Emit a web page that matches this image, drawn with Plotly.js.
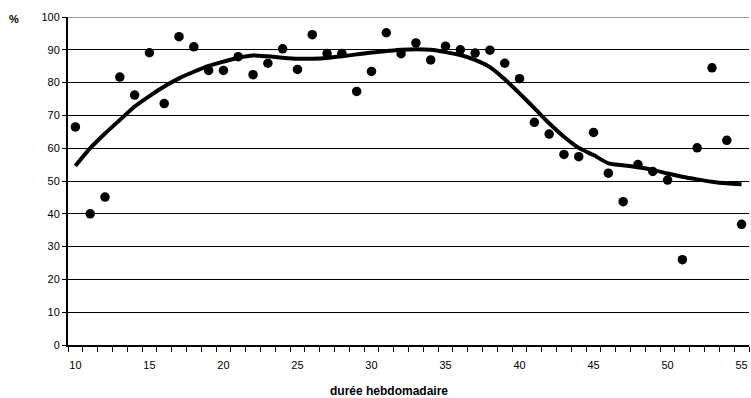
<!DOCTYPE html>
<html>
<head>
<meta charset="utf-8">
<script src="https://cdn.plot.ly/plotly-3.0.1.min.js"></script>
<style>html,body{margin:0;padding:0;background:#fff;}#chart{width:751px;height:398px;}</style>
</head>
<body>
<div id="chart"></div>
<script>
// Weekly hours (durée hebdomadaire)
var hours = [10,11,12,13,14,15,16,17,18,19,20,21,22,23,24,25,26,27,28,29,30,31,32,33,34,35,36,37,38,39,40,41,42,43,44,45,46,47,48,49,50,51,52,53,54,55];
// Observed percentages (points)
var observed = [66.5,40,45.1,81.7,76.2,89.1,73.6,94.0,90.9,83.7,83.7,87.9,82.4,85.9,90.3,84.0,94.6,88.9,88.9,77.3,83.4,95.2,88.8,92.1,86.9,91.1,90.0,89.0,89.9,85.9,81.2,67.9,64.3,58.1,57.4,64.8,52.4,43.7,55.0,52.9,50.3,26.0,60.1,84.5,62.4,36.8];
// Smoothed trend curve
var trend = [54.6,60.0,64.5,68.6,72.7,75.9,78.8,81.3,83.3,85.1,86.4,87.6,88.3,88.0,87.6,87.3,87.3,87.5,88.0,88.6,89.2,89.6,90.0,90.2,90.0,89.3,88.4,86.9,84.7,81.0,76.7,72.2,67.6,63.5,60.1,57.9,55.4,54.8,54.2,53.4,52.3,51.3,50.5,49.8,49.3,49.0];
var xTickVals = [10,15,20,25,30,35,40,45,50,55];
var yTickVals = [0,10,20,30,40,50,60,70,80,90];

var traces = [
  {x: hours, y: trend, type: 'scatter', mode: 'lines',
   line: {color: '#000', width: 4, shape: 'spline', smoothing: 0.5},
   hoverinfo: 'skip', showlegend: false},
  {x: hours, y: observed, type: 'scatter', mode: 'markers',
   marker: {color: '#000', size: 9.5, symbol: 'circle'},
   showlegend: false}
];

var layout = {
  width: 751, height: 398,
  margin: {l: 68, r: 2, t: 17, b: 53},
  paper_bgcolor: '#fff', plot_bgcolor: '#fff',
  font: {family: 'Liberation Sans, Arial, sans-serif', size: 11, color: '#000'},
  showlegend: false,
  xaxis: {
    range: [9.5, 55.5], tickvals: xTickVals, ticktext: xTickVals.map(String),
    ticks: '', showgrid: false, zeroline: false,
    showline: true, linecolor: '#000', linewidth: 2,
    ticklabelstandoff: 9,
    tickfont: {size: 11, color: '#000'},
    minor: {ticks: 'outside', tick0: 9.5, dtick: 1, ticklen: 5, tickcolor: '#000', tickwidth: 1, showgrid: false}
  },
  yaxis: {
    range: [0, 100], tickvals: yTickVals.concat([100]),
    ticks: 'outside', ticklen: 4, tickcolor: '#000', tickwidth: 1,
    showgrid: true, gridcolor: '#000', gridwidth: 1,
    zeroline: false, showline: true, linecolor: '#000', linewidth: 2,
    tickfont: {size: 11, color: '#000'}
  },
  shapes: [
    {type: 'line', xref: 'paper', yref: 'y', x0: 0, x1: 1, y0: 100, y1: 100,
     line: {color: '#9a9a9a', width: 2}, layer: 'above'}
  ],
  annotations: [
    {text: '<b>%</b>', xref: 'paper', yref: 'paper', x: (14 - 68) / 681, y: (345 - 19) / 328,
     xanchor: 'center', yanchor: 'middle', showarrow: false, font: {size: 11, color: '#000'}},
    {text: '<b>durée hebdomadaire</b>', xref: 'paper', yref: 'paper', x: (389 - 68) / 681, y: (345 - 391) / 328,
     xanchor: 'center', yanchor: 'middle', showarrow: false, font: {size: 12, color: '#000'}}
  ]
};

Plotly.newPlot('chart', traces, layout, {displayModeBar: false, staticPlot: true});
</script>
</body>
</html>
